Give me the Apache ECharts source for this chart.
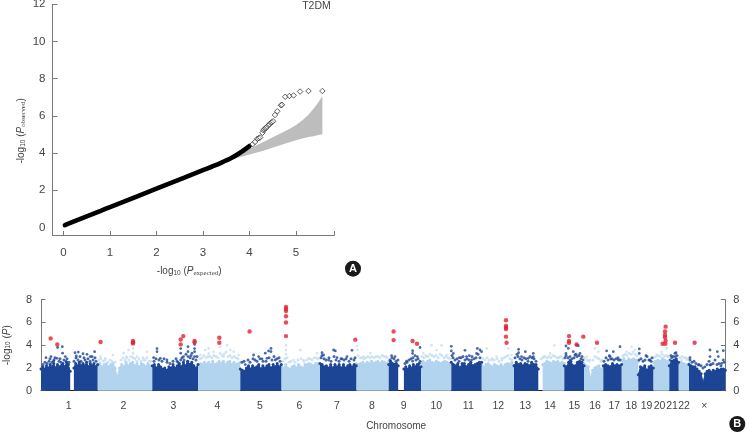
<!DOCTYPE html>
<html>
<head>
<meta charset="utf-8">
<title>T2DM</title>
<script src="https://cdn.jsdelivr.net/npm/echarts@6/dist/echarts.min.js"></script>
<style>
html,body{margin:0;padding:0;background:#fff;}
#main{width:746px;height:432px;}
</style>
</head>
<body>
<div id="main"></div>
<script>
// panel A - QQ plot
var qqExpected=[0.03,0.2,0.5,0.8,1,1.3,1.6,2,2.3,2.6,3,3.2,3.4,3.6,3.8,4.0];
var qqObserved=[0.13,0.3,0.6,0.9,1.1,1.39,1.69,2.09,2.39,2.68,3.08,3.28,3.49,3.72,4.02,4.38];
var tailExpected=[4.07,4.12,4.17,4.20,4.23,4.28,4.30,4.32,4.34,4.36,4.38,4.41,4.43,4.46,4.48,4.51,4.55,4.60,4.68,4.70,4.77,4.86,4.95,5.09,5.27,5.57];
var tailObserved=[4.48,4.60,4.77,4.80,4.84,5.09,5.23,5.28,5.33,5.36,5.42,5.50,5.55,5.63,5.66,5.71,6.05,6.25,6.57,6.60,7.03,7.07,7.10,7.31,7.34,7.34];
var bandX=[3.51,3.73,4.02,4.30,4.59,4.88,5.02,5.16,5.27,5.38,5.48,5.57];
var bandUpper=[3.62,3.83,4.25,4.60,4.96,5.32,5.54,5.80,6.06,6.38,6.72,7.06];
var bandLower=[3.62,3.74,3.94,4.12,4.37,4.60,4.70,4.80,4.86,4.91,4.97,5.02];

// panel B - Manhattan plot, x is position along the genome in axis units
var chromSpans=[[0,56.6],[56.6,111.3],[111.3,157],[157,199.3],[199.3,240.3],[240.3,279],[279,315.3],[315.3,347.7],[347.7,380],[380,410.3],[410.3,440.6],[440.6,473],[473,497.3],[497.3,523.3],[523.3,543],[543,562.3],[562.3,580.6],[580.6,597.3],[597.3,612.3],[612.3,628.3],[628.3,637.6],[637.6,648],[648,684.3]];
var chromHeights=[
[1.9,2.1,1.9,2.2,2.0,2.3,2.1,2.4,2.0,2.3,2.1,2.2,2.4,2.1,2.5,2.3,1.7,null,2.0,2.4,2.2,2.5,2.2,2.4,2.2,2.5,2.1,2.4,2.2,2.4,2.1,2.3],
[2.2,2.4,2.1,2.3,2.4,2.1,2.3,2.4,2.0,1.2,2.0,2.3,2.1,2.5,2.2,2.4,2.5,2.2,2.4,2.1,2.4,2.3,2.1,2.4,2.2,2.1],
[2.2,2.3,2.0,2.3,2.1,1.9,2.0,1.8,2.1,2.0,2.3,2.0,2.2,2.4,2.1,2.5,2.2,2.6,2.3,2.5,2.2,2.0,2.3],
[2.2,2.4,2.3,2.5,2.3,2.5,2.3,2.6,2.3,2.4,2.6,2.4,2.6,2.3,2.5,2.6,2.3,2.5,2.3,2.4,2.5],
[1.9,1.8,1.7,2.0,2.2,1.9,2.2,2.0,2.1,2.3,1.9,2.2,2.0,2.2,2.3,2.0,2.3,2.1,2.4,2.1,2.3],
[2.2,2.0,2.3,2.0,1.9,2.1,2.2,2.0,2.3,2.1,2.0,2.3,2.3,2.4,2.3,2.2,2.4,2.4,2.2],
[2.4,2.3,2.1,2.2,2.0,2.3,2.0,2.3,2.1,2.3,2.0,2.3,2.0,2.2,2.3,2.1,2.3,2.2],
[2.4,2.3,2.4,2.5,2.3,2.5,2.4,2.6,2.4,2.5,2.6,2.4,2.6,2.5,2.4,2.6],
[2.3,2.6,2.4,2.3,2.4,2.2,null,null,1.9,2.1,1.9,2.2,2.0,2.3,2.1,2.3,2.4,2.1],
[2.5,2.6,2.4,2.6,2.7,2.5,2.4,2.6,2.5,2.4,2.5,2.6,2.5,2.4,2.4],
[2.5,2.3,2.2,2.4,2.0,2.4,2.4,2.1,2.3,2.5,2.2,2.3,2.4,2.5,2.5],
[2.3,2.1,2.3,2.4,2.2,2.1,2.3,2.2,2.1,2.3,2.1,2.3,2.4,2.3,2.5,2.2],
[2.2,2.5,2.3,2.4,2.2,2.4,2.3,2.2,2.5,2.3,2.3,1.9],
[null,null,2.3,2.4,2.6,2.5,2.4,2.6,2.5,2.6,2.4,2.5,2.4],
[2.2,2.1,2.5,2.6,2.2,2.2,2.5,2.6,2.5,2.2],
[2.4,2.2,2.1,1.1,1.8,2.0,2.1,2.2,1.9,2.0],
[2.2,2.3,2.2,2.1,2.4,2.2,2.3,2.2,2.3],
[2.7,2.8,2.6,2.8,2.7,2.8,2.7,2.6],
[1.4,2.1,2.0,2.2,1.8,2.1,2.2,2.0],
[2.5,2.6,2.7,2.6,2.8,2.7,2.6,2.4],
[2.2,2.6,2.7,2.8,2.5],
[2.4,2.5,2.4,2.3,2.4],
[2.3,2.2,2.1,2.1,1.9,1.7,1.5,0.7,1.5,1.7,1.8,1.6,1.8,1.7,1.9,1.8,1.9,1.9,1.8]
];
var chromLabels=['1','2','3','4','5','6','7','8','9','10','11','12','13','14','15','16','17','18','19','20','21','22','×'];
var chromLabelPos=[27.6,82.3,132.3,176.3,219,258.3,296,331,362.6,395.3,427.3,457.3,484.3,509,533.3,554,573.3,590.3,605.6,618.6,631,643,663.3];
var darkPoints=[[5,2.9],[10,3.0],[16.6,3.8],[21.3,3.87],[21.6,3.3],[16,2.85],[12.6,2.6],[24.3,3.0],[34,3.34],[37.3,3.4],[42,3.25],[46,3.2],[53.6,3.43],[49.3,3.0],[35.3,3.05],
[112.6,2.9],[116,3.7],[116,3.43],[119.3,2.85],[126,2.7],[139.7,3.7],[139.7,3.3],[139.7,2.7],[147,3.87],[147,3.43],[147,3.0],[147,2.55],[153.6,4.07],[153.6,3.7],[153.6,3.43],[153.6,3.0],[151,3.3],[142.6,3.0],[136,2.6],
[212.6,3.14],[217.6,3.0],[224.3,3.3],[227.6,3.5],[230,3.72],[230,3.43],[226,2.85],[234.3,2.7],[221,2.8],[204.3,2.3],
[281,3.34],[282.6,3.14],[292.6,3.58],[294.3,3.5],[311,3.55],[306,3.0],[296,2.9],[287.6,2.7],[301,2.8],
[350.6,3.08],[354,3.0],[371.6,3.52],[371.6,3.28],[374,3.08],[376.3,3.0],[379,3.8],[371.6,2.6],[365.6,2.6],
[410.3,3.9],[410.3,3.5],[412.3,3.28],[424,3.55],[425.6,3.0],[428.3,3.08],[436.3,3.72],[439,3.58],[440.6,3.43],[435.6,3.28],[418.3,2.9],[430.6,2.7],
[477.6,3.64],[477.6,3.34],[484.3,3.43],[480.6,3.0],[492.3,3.28],[492.3,3.0],[487.3,2.85],
[525,3.93],[527.3,3.72],[525,3.28],[532.3,3.43],[535.6,4.0],[537.3,3.96],[529,3.0],[539,3.28],[534,3.14],
[565.6,3.5],[572.3,3.43],[568.3,3.08],[569.6,2.78],[579,3.87],[577.3,2.7],
[598.3,3.67],[598.3,3.28],[605,3.08],[609,2.7],
[635,3.34],[634,3.0],[630.6,2.9],[635.6,2.55],
[649,2.9],[669,3.58],[669,3.0],[676.3,3.43],[682.3,3.52],[677.3,3.0],[669,2.25],[657.3,2.25],[682.3,2.7],[680.6,2.4],[664,2.1]];
var darkTopPoints=[[2,2.3],[4,2.5],[6,2.4],[8,2.6],[9,2.8],[11,2.5],[13,2.7],[14,2.9],[18,2.6],[19,2.8],[20,2.5],[23,2.7],[25,2.6],[26,2.8],[28,2.5],[33,2.6],[35,2.9],[37,2.7],[39,3.0],[40,2.6],[43,2.9],[44,2.7],[47,2.8],[49,2.6],[51,3.0],[52,2.7],[54,2.9],[55,2.6],
[113,2.6],[115,2.8],[118,2.7],[121,2.6],[123,2.8],[126,2.5],[129,2.4],[132,2.6],[135,2.8],[137,2.5],[141,2.9],[143,2.7],[145,3.2],[149,2.9],[150,3.1],[152,2.8],[155,2.7],[156,3.0],
[201,2.5],[203,2.6],[207,2.7],[209,2.5],[212,2.8],[214,2.7],[216,2.6],[219,2.8],[222,2.6],[225,2.6],[228,2.9],[231,2.7],[233,3.0],[236,2.8],[238,2.9],[239,2.6],
[280,2.9],[281,3.1],[283,2.8],[285,2.7],[288,2.9],[290,2.6],[293,3.0],[295,2.7],[298,2.6],[300,2.8],[303,2.7],[305,2.8],[308,2.6],[310,2.8],[313,2.7],[314,2.9],
[349,2.7],[351,2.9],[353,2.8],[355,2.6],[357,2.7],[364,2.4],[366,2.5],[368,2.7],[370,2.8],[372,2.9],[375,2.7],[377,2.8],[379,2.6],
[411,3.1],[412,2.9],[414,2.7],[416,2.8],[418,2.6],[420,2.9],[422,3.0],[424,2.7],[426,2.8],[428,2.7],[431,3.0],[433,2.8],[435,2.9],[437,3.2],[439,2.9],
[474,2.9],[476,3.2],[477,3.0],[479,2.8],[481,2.7],[483,2.9],[485,2.8],[487,2.6],[489,3.0],[491,2.9],[493,2.8],[495,2.6],
[524,2.9],[525,3.1],[527,2.9],[529,2.7],[531,2.8],[533,2.9],[535,3.2],[536,3.0],[538,3.1],[540,2.8],[541,3.0],[542,2.7],
[563,2.6],[565,2.9],[567,2.7],[569,3.0],[571,2.8],[573,2.7],[575,2.8],[577,2.9],[579,2.7],
[598,2.7],[600,2.8],[602,2.6],[604,2.7],[606,3.0],[608,2.7],[610,2.6],[611,2.9],
[629,2.7],[630,3.1],[632,3.0],[634,3.3],[636,3.1],
[649,2.7],[651,2.5],[653,2.6],[655,2.4],[658,2.3],[660,2.2],[662,2.0],[666,2.3],[668,2.6],[670,2.3],[672,2.4],[674,2.7],[676,2.3],[678,2.4],[680,2.2],[683,2.5]];
var lightPoints=[[59.3,3.0],[64.3,2.85],[72,3.14],[82.6,3.3],[87.6,3.58],[92,3.72],[92,3.28],[96,3.0],[102.6,2.7],[106,3.43],[85.3,3.0],
[159.3,3.14],[164.3,3.58],[167.6,3.28],[172.6,3.43],[179.3,3.87],[186,4.0],[189.3,3.58],[192.6,3.43],[182.6,3.0],[197.6,3.14],[167.6,3.72],
[245,4.0],[245,3.58],[245,3.2],[259.3,3.58],[252.6,2.7],[267.6,2.85],[276,3.28],[262.6,2.7],
[316,3.93],[316.6,3.58],[322.6,3.0],[329.3,3.3],
[390.6,4.0],[400.6,4.0],[382.3,3.3],[395.6,3.58],[405.6,3.14],[385.6,3.0],
[445.6,3.72],[467.3,3.72],[450.6,2.7],[455.6,3.0],[470.6,3.14],[460.6,2.85],
[513.3,4.0],[502.3,3.0],[509,3.28],[519,3.0],
[545.6,3.0],[554,3.72],[557.3,3.43],[549,2.7],
[585.6,3.43],[590.6,3.87],[594,3.58],[582.3,3.0],
[615.6,3.14],[620.6,3.43],[625.6,3.72],[627,3.0],
[640.6,2.7],[645.6,2.7]];
var lightTopPoints=[[58,2.7],[60,2.8],[62,2.6],[64,2.7],[67,2.5],[69,2.7],[71,2.6],[74,2.5],[80,2.7],[82,2.9],[84,2.7],[86,2.9],[88,2.7],[90,3.0],[92,2.9],[94,2.8],[96,2.6],[98,2.8],[100,2.6],[102,2.9],[104,2.7],[106,2.9],[108,2.6],[110,2.6],
[159,2.8],[161,2.9],[163,3.1],[165,2.9],[167,3.0],[169,3.0],[171,2.9],[173,3.1],[175,3.0],[177,2.9],[179,3.3],[181,3.1],[183,3.2],[185,3.4],[187,3.0],[189,3.1],[191,2.9],[193,3.0],[195,2.9],[197,2.8],
[242,2.6],[244,2.8],[246,2.9],[248,2.5],[250,2.6],[254,2.5],[257,2.7],[260,2.8],[263,2.6],[266,2.7],[269,2.8],[271,2.7],[273,2.9],[275,2.9],[277,2.8],
[317,3.1],[319,2.9],[321,2.9],[323,2.8],[325,2.9],[327,3.0],[329,2.9],[331,3.0],[333,2.9],[335,3.0],[337,3.0],[339,2.9],[341,3.1],[343,3.0],[345,3.0],[346,2.9],
[381,3.0],[383,2.9],[385,3.1],[387,3.0],[389,3.2],[391,3.1],[393,3.0],[395,3.1],[397,2.9],[399,3.2],[401,3.1],[403,2.9],[405,3.0],[407,2.9],[409,2.8],
[442,2.8],[444,2.7],[446,2.9],[448,2.7],[451,2.8],[453,2.7],[456,2.8],[458,2.6],[461,2.7],[463,2.9],[465,3.0],[467,3.1],[469,2.8],[471,2.7],
[500,2.8],[502,2.9],[504,3.0],[506,2.9],[508,3.0],[510,2.9],[512,3.1],[514,3.0],[516,2.9],[518,2.9],[520,3.0],[522,2.8],
[544,2.9],[546,2.7],[548,2.6],[552,2.7],[554,3.0],[556,2.9],[558,2.8],[560,2.6],[561,2.7],
[582,3.1],[584,3.2],[586,3.1],[588,3.3],[590,3.2],[592,3.4],[594,3.2],[596,3.1],
[613,2.9],[615,3.0],[617,3.1],[619,3.0],[621,3.2],[623,3.0],[625,3.1],[627,3.0],
[639,2.9],[641,3.0],[643,2.9],[645,2.9],[647,2.8]];
var redPoints=[[9.6,4.6],[16.3,4.07],[59.6,4.28],[92,4.37],[92,4.25],[92,4.15],[139.7,4.5],[142.3,4.8],[139.7,4.07],[153.6,4.37],[153.6,4.25],
[178.3,4.66],[178.3,4.22],[208.6,5.2],[245,7.36],[245,7.18],[245,7.0],[245,6.54],[245,6.0],[245,4.8],[314.3,4.49],
[352.6,5.2],[352.6,4.45],[371.6,4.37],[376,4.13],[465,6.2],[465,5.7],[465,5.54],[465,5.43],[465,4.75],[465.6,4.22],
[528,4.8],[528,4.37],[528,4.22],[535.6,4.07],[542.3,4.75],[556,4.22],[624.6,5.63],[624,5.2],[624,4.9],[624,4.7],[624.6,4.4],[621.6,4.13],[624.3,4.13],[634,4.22],[653.6,4.22]];

var txtColor='#444';
var axisColor='#777';
var darkBlue='#1c4595';
var lightBlue='#b3d4ef';
var fontName='"Liberation Sans",Arial,sans-serif';

function zip(a,b){
    var out=[];
    for(var i=0;i<a.length;i++){
        out.push([a[i],b[i]]);
    }
    return out;
}

var nameRich={
    a:{fontFamily:fontName,fontSize:10,color:txtColor},
    s:{fontFamily:fontName,fontSize:6.5,color:txtColor,padding:[3,0,0,0]},
    i:{fontFamily:fontName,fontSize:10,fontStyle:'italic',color:txtColor},
    o:{fontFamily:'"Liberation Serif",serif',fontSize:7,color:txtColor,padding:[3,0,0,0]}
};

var seriesList=[];

// grey confidence band
seriesList.push({
    type:'custom',xAxisIndex:0,yAxisIndex:0,silent:true,z:1,
    data:[0],
    renderItem:function(params,api){
        var pts=[];
        for(var i=0;i<bandX.length;i++){
            pts.push(api.coord([bandX[i],bandUpper[i]]));
        }
        for(var j=bandX.length-1;j>=0;j--){
            pts.push(api.coord([bandX[j],bandLower[j]]));
        }
        return {type:'polygon',shape:{points:pts},style:{fill:'#bdbdbd'}};
    }
});
seriesList.push({
    type:'line',xAxisIndex:0,yAxisIndex:0,z:3,showSymbol:false,smooth:0.2,
    data:zip(qqExpected,qqObserved),
    lineStyle:{color:'#000',width:4.6,cap:'round'}
});
seriesList.push({
    type:'scatter',xAxisIndex:0,yAxisIndex:0,z:4,symbol:'diamond',symbolSize:5.5,
    data:zip(tailExpected,tailObserved),
    itemStyle:{color:'rgba(255,255,255,0.6)',borderColor:'#3a3a3a',borderWidth:1}
});

// one filled skyline for each chromosome
chromHeights.forEach(function(heights,c){
    var span=chromSpans[c];
    var step=(span[1]-span[0])/(heights.length-1);
    var rows=[];
    for(var i=0;i<heights.length;i++){
        rows.push([span[0]+i*step,heights[i]]);
    }
    var col=c%2==0?darkBlue:lightBlue;
    seriesList.push({
        type:'line',xAxisIndex:1,yAxisIndex:1,z:c%2==0?2:1,
        data:rows,connectNulls:false,
        symbol:'circle',symbolSize:3,showSymbol:true,showAllSymbol:true,
        lineStyle:{width:1,color:col},
        itemStyle:{color:col},
        areaStyle:{color:col,opacity:1}
    });
});
seriesList.push({type:'scatter',xAxisIndex:1,yAxisIndex:1,z:1,symbolSize:3,data:lightTopPoints,itemStyle:{color:'#c3ddf3'}});
seriesList.push({type:'scatter',xAxisIndex:1,yAxisIndex:1,z:2,symbolSize:2.6,data:lightPoints,itemStyle:{color:'#c3ddf3'}});
seriesList.push({type:'scatter',xAxisIndex:1,yAxisIndex:1,z:3,symbolSize:3,data:darkTopPoints,itemStyle:{color:darkBlue}});
seriesList.push({type:'scatter',xAxisIndex:1,yAxisIndex:1,z:3,symbolSize:2.8,data:darkPoints,itemStyle:{color:darkBlue}});
seriesList.push({type:'scatter',xAxisIndex:1,yAxisIndex:1,z:4,symbolSize:4.4,data:redPoints,itemStyle:{color:'#e3202e'}});

function badge(cx,cy,letter){
    return {
        type:'group',
        children:[
            {type:'circle',shape:{cx:cx,cy:cy,r:8},style:{fill:'#1a1a1a'}},
            {type:'text',x:cx,y:cy,style:{text:letter,fill:'#fff',font:'bold 11px '+fontName,textAlign:'center',textVerticalAlign:'middle'}}
        ]
    };
}

var option={
    animation:false,
    backgroundColor:'#fff',
    textStyle:{fontFamily:fontName},
    grid:[
        {left:52.5,top:4.3,width:281.5,height:231.2,outerBoundsMode:'none'},
        {left:41,top:299.7,width:684.3,height:91,outerBoundsMode:'none'}
    ],
    xAxis:[
        {
            type:'value',gridIndex:0,min:-0.237,max:5.82,
            splitLine:{show:false},
            axisLine:{onZero:false,lineStyle:{color:axisColor}},
            axisTick:{inside:true,length:4.5,lineStyle:{color:axisColor},customValues:[0,1,2,3,4,5,5.82]},
            axisLabel:{color:txtColor,fontSize:11.5,margin:11,customValues:[0,1,2,3,4,5]},
            name:'{a|-log}{s|10}{a| (}{i|P}{o|expected}{a|)}',
            nameLocation:'middle',nameGap:31,
            nameTextStyle:{rich:nameRich,padding:[0,8,0,0]}
        },
        {
            type:'value',gridIndex:1,min:0,max:684.3,
            splitLine:{show:false},
            axisLine:{onZero:false,lineStyle:{color:'#222'}},
            axisTick:{show:false},
            axisLabel:{
                color:txtColor,fontSize:10.5,margin:10,
                customValues:chromLabelPos,
                formatter:function(v){
                    var k=chromLabelPos.indexOf(v);
                    return k>=0?chromLabels[k]:'';
                }
            },
            name:'Chromosome',nameLocation:'middle',nameGap:31,
            nameTextStyle:{color:txtColor,fontSize:10,fontFamily:fontName,padding:[0,0,0,26]}
        }
    ],
    yAxis:[
        {
            type:'value',gridIndex:0,min:-0.43,max:12,
            splitLine:{show:false},
            axisLine:{onZero:false,lineStyle:{color:axisColor}},
            axisTick:{inside:true,length:5,lineStyle:{color:axisColor},customValues:[2,4,6,8,10,12]},
            axisLabel:{color:txtColor,fontSize:11.5,margin:7,customValues:[0,2,4,6,8,10,12]},
            name:'{a|-log}{s|10}{a| (}{i|P}{o|observed}{a|)}',
            nameLocation:'middle',nameRotate:90,nameGap:26,
            nameTextStyle:{rich:nameRich,padding:[0,22,0,0]}
        },
        {
            type:'value',gridIndex:1,min:0,max:8,interval:2,
            splitLine:{show:false},
            axisLine:{onZero:false,lineStyle:{color:axisColor}},
            axisTick:{inside:true,length:4.5,lineStyle:{color:axisColor}},
            axisLabel:{color:txtColor,fontSize:11,margin:9},
            name:'{a|-log}{s|10}{a| (}{i|P}{a|)}',
            nameLocation:'middle',nameRotate:90,nameGap:29,
            nameTextStyle:{rich:nameRich}
        },
        {
            type:'value',gridIndex:1,position:'right',min:0,max:8,interval:2,
            splitLine:{show:false},
            axisLine:{onZero:false,show:true,lineStyle:{color:axisColor}},
            axisTick:{show:true,inside:true,length:4.5,lineStyle:{color:axisColor}},
            axisLabel:{color:txtColor,fontSize:11,margin:8}
        }
    ],
    graphic:[
        {type:'text',x:316.5,y:1,style:{text:'T2DM',fill:txtColor,font:'10.5px '+fontName,textAlign:'center'}},
        badge(353,268.7,'A'),
        badge(737.3,424,'B')
    ],
    series:seriesList
};

var chart=echarts.init(document.getElementById('main'),null,{renderer:'canvas'});
chart.setOption(option);
</script>
</body>
</html>
